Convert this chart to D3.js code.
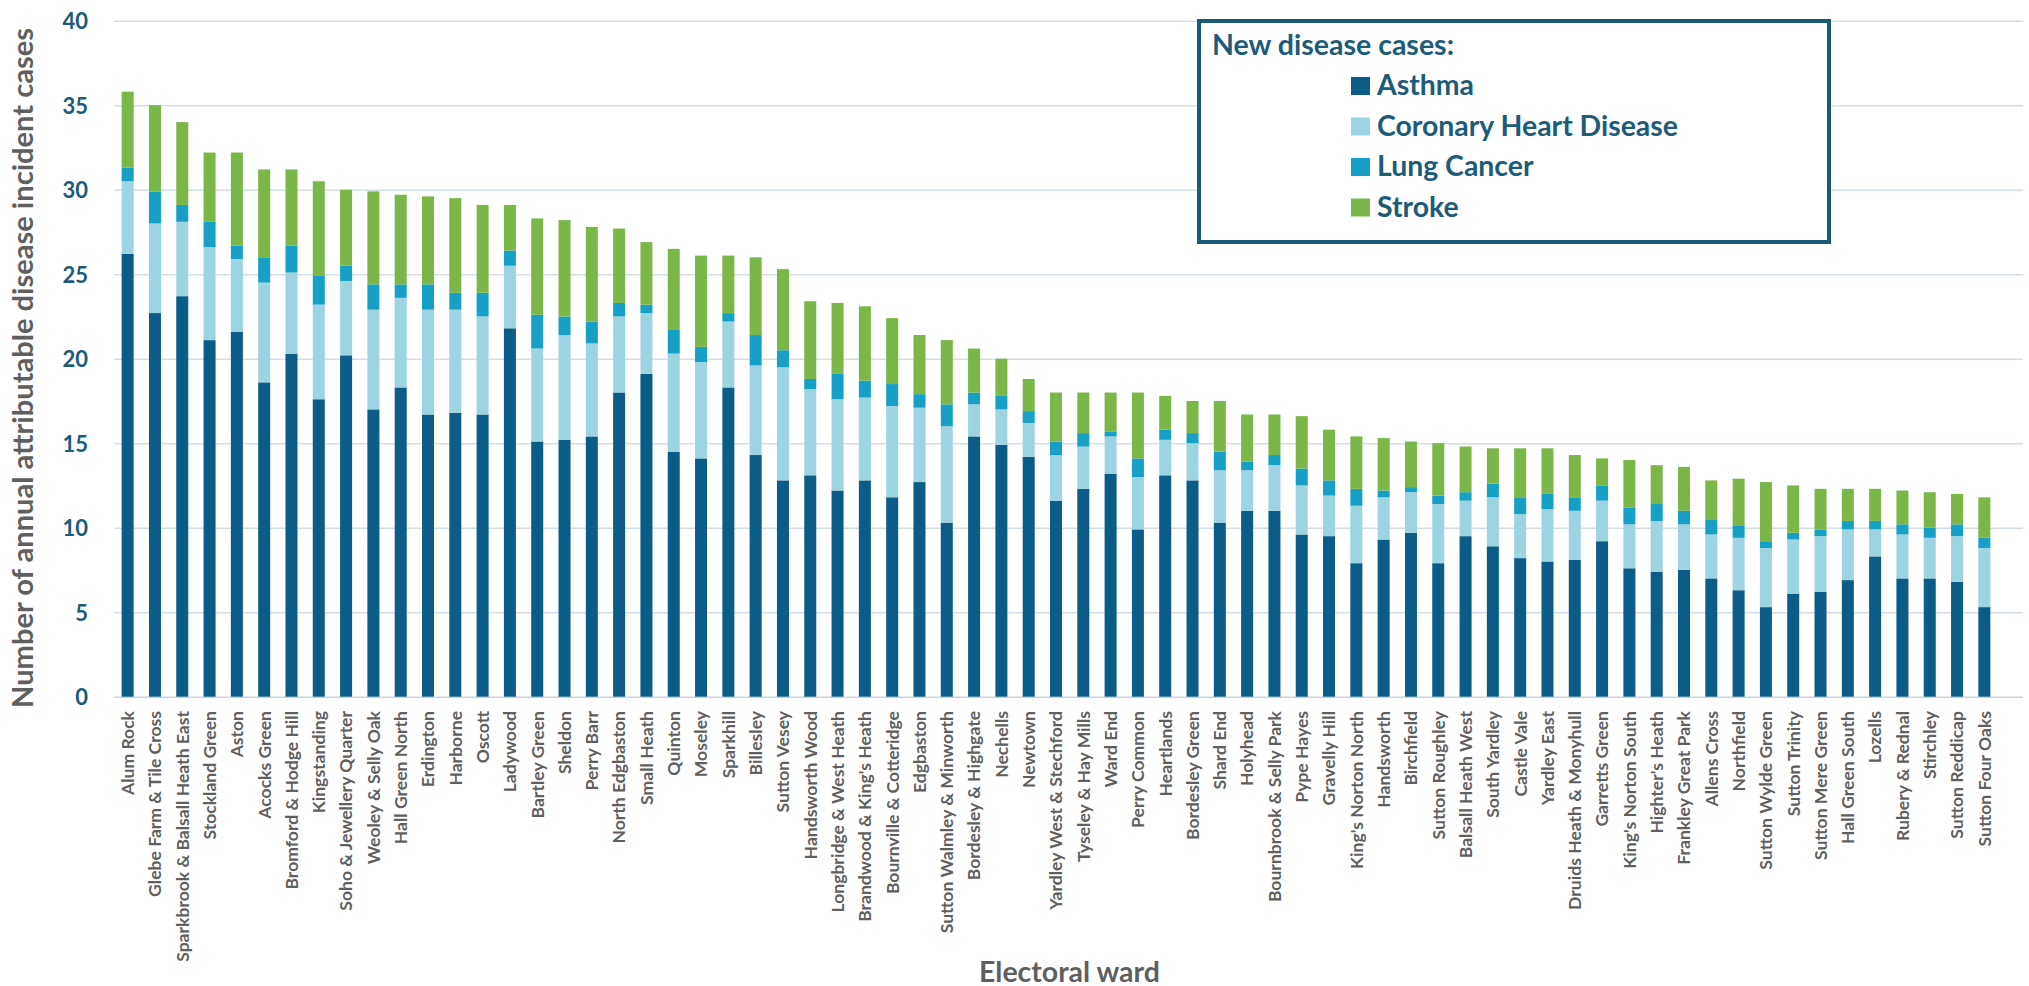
<!DOCTYPE html>
<html>
<head>
<meta charset="utf-8">
<script src="https://cdn.jsdelivr.net/npm/d3@7"></script>
<style>
  body { margin: 0; background: #ffffff; }
  svg { display: block; }
</style>
</head>
<body>
<svg id="chart" width="2029" height="986"></svg>
<script>
// Electoral wards, ordered by total attributable incident cases
const wards = [
  "Alum Rock", "Glebe Farm & Tile Cross", "Sparkbrook & Balsall Heath East", "Stockland Green",
  "Aston", "Acocks Green", "Bromford & Hodge Hill", "Kingstanding", "Soho & Jewellery Quarter",
  "Weoley & Selly Oak", "Hall Green North", "Erdington", "Harborne", "Oscott", "Ladywood",
  "Bartley Green", "Sheldon", "Perry Barr", "North Edgbaston", "Small Heath", "Quinton",
  "Moseley", "Sparkhill", "Billesley", "Sutton Vesey", "Handsworth Wood",
  "Longbridge & West Heath", "Brandwood & King's Heath", "Bournville & Cotteridge",
  "Edgbaston", "Sutton Walmley & Minworth", "Bordesley & Highgate", "Nechells", "Newtown",
  "Yardley West & Stechford", "Tyseley & Hay Mills", "Ward End", "Perry Common",
  "Heartlands", "Bordesley Green", "Shard End", "Holyhead", "Bournbrook & Selly Park",
  "Pype Hayes", "Gravelly Hill", "King's Norton North", "Handsworth", "Birchfield",
  "Sutton Roughley", "Balsall Heath West", "South Yardley", "Castle Vale", "Yardley East",
  "Druids Heath & Monyhull", "Garretts Green", "King's Norton South", "Highter's Heath",
  "Frankley Great Park", "Allens Cross", "Northfield", "Sutton Wylde Green",
  "Sutton Trinity", "Sutton Mere Green", "Hall Green South", "Lozells", "Rubery & Rednal",
  "Stirchley", "Sutton Reddicap", "Sutton Four Oaks"
];

// New cases per year, by disease
const asthma = [
  26.2, 22.7, 23.7, 21.1, 21.6, 18.6, 20.3, 17.6, 20.2, 17.0, 18.3, 16.7, 16.8, 16.7, 21.8,
  15.1, 15.2, 15.4, 18.0, 19.1, 14.5, 14.1, 18.3, 14.3, 12.8, 13.1, 12.2, 12.8, 11.8, 12.7,
  10.3, 15.4, 14.9, 14.2, 11.6, 12.3, 13.2, 9.9, 13.1, 12.8, 10.3, 11.0, 11.0, 9.6, 9.5,
  7.9, 9.3, 9.7, 7.9, 9.5, 8.9, 8.2, 8.0, 8.1, 9.2, 7.6, 7.4, 7.5, 7.0, 6.3, 5.3, 6.1, 6.2,
  6.9, 8.3, 7.0, 7.0, 6.8, 5.3
];
const coronaryHeartDisease = [
  4.3, 5.3, 4.4, 5.5, 4.3, 5.9, 4.8, 5.6, 4.4, 5.9, 5.3, 6.2, 6.1, 5.8, 3.7,
  5.5, 6.2, 5.5, 4.5, 3.6, 5.8, 5.7, 3.9, 5.3, 6.7, 5.1, 5.4, 4.9, 5.4, 4.4,
  5.7, 1.9, 2.1, 2.0, 2.7, 2.5, 2.2, 3.1, 2.1, 2.2, 3.1, 2.4, 2.7, 2.9, 2.4,
  3.4, 2.5, 2.4, 3.5, 2.1, 2.9, 2.6, 3.1, 2.9, 2.4, 2.6, 3.0, 2.7, 2.6, 3.1, 3.5, 3.2, 3.3,
  3.0, 1.6, 2.6, 2.4, 2.7, 3.5
];
const lungCancer = [
  0.8, 1.9, 1.0, 1.5, 0.8, 1.5, 1.6, 1.7, 0.9, 1.5, 0.8, 1.5, 1.0, 1.4, 0.9,
  2.0, 1.1, 1.3, 0.8, 0.5, 1.4, 0.9, 0.5, 1.8, 1.0, 0.6, 1.5, 1.0, 1.3, 0.8,
  1.3, 0.7, 0.8, 0.7, 0.8, 0.8, 0.3, 1.1, 0.6, 0.6, 1.1, 0.5, 0.6, 1.0, 0.9,
  1.0, 0.4, 0.3, 0.5, 0.5, 0.8, 1.0, 0.9, 0.8, 0.9, 1.0, 1.0, 0.8, 0.9, 0.7, 0.4, 0.4, 0.4,
  0.5, 0.5, 0.6, 0.6, 0.7, 0.6
];
const stroke = [
  4.5, 5.1, 4.9, 4.1, 5.5, 5.2, 4.5, 5.6, 4.5, 5.5, 5.3, 5.2, 5.6, 5.2, 2.7,
  5.7, 5.7, 5.6, 4.4, 3.7, 4.8, 5.4, 3.4, 4.6, 4.8, 4.6, 4.2, 4.4, 3.9, 3.5,
  3.8, 2.6, 2.2, 1.9, 2.9, 2.4, 2.3, 3.9, 2.0, 1.9, 3.0, 2.8, 2.4, 3.1, 3.0,
  3.1, 3.1, 2.7, 3.1, 2.7, 2.1, 2.9, 2.7, 2.5, 1.6, 2.8, 2.3, 2.6, 2.3, 2.8, 3.5, 2.8, 2.4,
  1.9, 1.9, 2.0, 2.1, 1.8, 2.4
];

const seriesNames = ["Asthma", "Coronary Heart Disease", "Lung Cancer", "Stroke"];
const seriesValues = [asthma, coronaryHeartDisease, lungCancer, stroke];
const seriesColors = ["#0b5d88", "#9dd4e2", "#17a0c6", "#7ab648"];
const yTicks = [0, 5, 10, 15, 20, 25, 30, 35, 40];

const legendTitle = "New disease cases:";
const yTitle = "Number of annual attributable disease incident cases";
const xTitle = "Electoral ward";

// ---- layout ----
const svg = d3.select("#chart");
const plot = { left: 114, right: 1998, gridRight: 2023, top: 20.7, bottom: 696.7 };
const teal = "#1c5b7a";
const grey = "#5f5f5f";
const font = "Lato, 'Open Sans', sans-serif";

svg.append("rect").attr("width", 2029).attr("height", 986).attr("fill", "#ffffff");

const x = d3.scaleBand()
  .domain(wards)
  .range([plot.left, plot.right])
  .paddingInner(0.56)
  .paddingOuter(0.28);

const y = d3.scaleLinear().domain([0, 40]).range([plot.bottom, plot.top]);

// Shrink or grow a text selection's font so its widest item spans `target` px
function fitWidth(sel, target) {
  let widest = 0;
  sel.each(function () { widest = Math.max(widest, this.getComputedTextLength()); });
  const size = parseFloat(sel.attr("font-size"));
  sel.attr("font-size", (size * target / widest).toFixed(2));
}

// ---- gridlines + y axis ----
const yAxis = svg.append("g")
  .attr("transform", `translate(${plot.left},0)`)
  .call(d3.axisLeft(y)
    .tickValues(yTicks)
    .tickSize(-(plot.gridRight - plot.left))
    .tickPadding(26)
    .tickFormat(d3.format("d")));
yAxis.select(".domain").remove();
yAxis.selectAll(".tick line")
  .attr("stroke", d => d === 0 ? "#c9d2d8" : "#d3dfe6")
  .attr("stroke-width", 1.5);
yAxis.selectAll(".tick text")
  .attr("fill", teal)
  .attr("font-family", font)
  .attr("font-weight", 700)
  .attr("font-size", 22)
  .attr("dy", "0.36em");

// ---- stacked bars ----
const rows = wards.map((w, i) => {
  const r = { ward: w };
  seriesNames.forEach((s, k) => { r[s] = seriesValues[k][i]; });
  return r;
});
const stacked = d3.stack().keys(seriesNames)(rows);

svg.append("g")
  .selectAll("g")
  .data(stacked)
  .join("g")
  .attr("fill", (d, k) => seriesColors[k])
  .selectAll("rect")
  .data(d => d)
  .join("rect")
  .attr("x", d => x(d.data.ward))
  .attr("width", x.bandwidth())
  .attr("y", d => y(d[1]))
  .attr("height", d => y(d[0]) - y(d[1]));

// ---- ward labels ----
const wardLabels = svg.append("g")
  .selectAll("text")
  .data(wards)
  .join("text")
  .attr("transform", d => `translate(${x(d) + x.bandwidth() / 2},711) rotate(-90)`)
  .attr("text-anchor", "end")
  .attr("dy", "0.36em")
  .attr("fill", grey)
  .attr("font-family", font)
  .attr("font-weight", 700)
  .attr("font-size", 16)
  .text(d => d);
fitWidth(wardLabels, 251);

// ---- axis titles ----
const yt = svg.append("text")
  .attr("transform", "translate(33,368) rotate(-90)")
  .attr("text-anchor", "middle")
  .attr("fill", grey)
  .attr("font-family", font)
  .attr("font-weight", 700)
  .attr("font-size", 25)
  .text(yTitle);
fitWidth(yt, 680);

const xt = svg.append("text")
  .attr("x", 1069.5)
  .attr("y", 981.5)
  .attr("text-anchor", "middle")
  .attr("fill", grey)
  .attr("font-family", font)
  .attr("font-weight", 700)
  .attr("font-size", 26)
  .text(xTitle);
fitWidth(xt, 181);

// ---- legend ----
const legend = svg.append("g");
legend.append("rect")
  .attr("x", 1199).attr("y", 21)
  .attr("width", 630).attr("height", 221)
  .attr("fill", "#ffffff")
  .attr("stroke", "#1b5a78")
  .attr("stroke-width", 4);

const lt = legend.append("text")
  .attr("x", 1212).attr("y", 55)
  .attr("fill", teal)
  .attr("font-family", font)
  .attr("font-weight", 700)
  .attr("font-size", 25)
  .text(legendTitle);
fitWidth(lt, 242);

const items = legend.selectAll("g.item")
  .data(seriesNames)
  .join("g")
  .attr("class", "item")
  .attr("transform", (d, k) => `translate(1351,${95 + k * 40.5})`);
items.append("rect")
  .attr("x", 0).attr("y", -18)
  .attr("width", 19).attr("height", 18)
  .attr("fill", (d, k) => seriesColors[k]);
const itemText = items.append("text")
  .attr("x", 26).attr("y", 0)
  .attr("fill", teal)
  .attr("font-family", font)
  .attr("font-weight", 700)
  .attr("font-size", 26)
  .text(d => d);
fitWidth(itemText, 301);
</script>
</body>
</html>
